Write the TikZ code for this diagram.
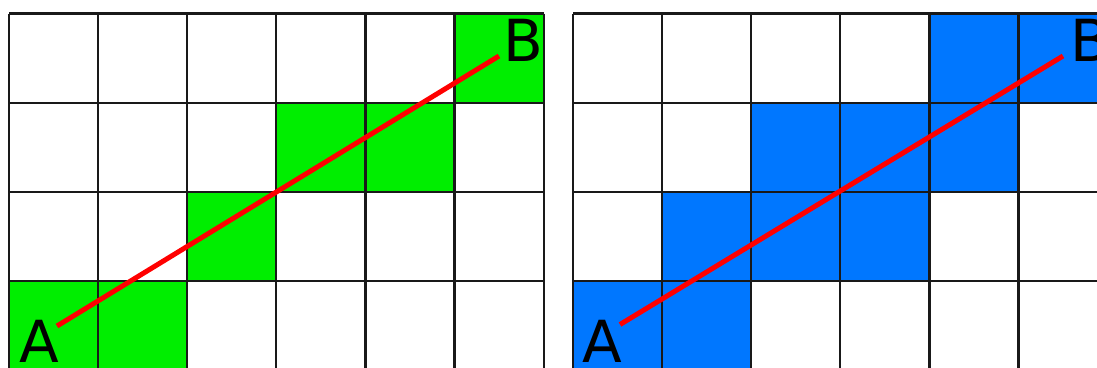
\documentclass[tikz,border=0pt]{standalone}
\usepackage{fontspec}
\setmainfont{DejaVu Sans}
\definecolor{cellgreen}{RGB}{0,238,0}
\definecolor{cellblue}{RGB}{0,119,255}
\begin{document}
\begin{tikzpicture}[x=1pt,y=-1pt,
  gridline/.style={draw=black!90,line width=2.2pt},
  ray/.style={draw=red,line width=5pt},
  lbl/.style={inner sep=0pt,anchor=base,font=\fontsize{58}{58}\selectfont}]
\useasboundingbox (0,0) rectangle (1097,367);
\clip (0,0) rectangle (1097,367);
\fill[white] (0,0) rectangle (1097,367);
\def\cs{89.1}
% left grid origin (9,13.5)
\foreach \c/\r in {5/0,3/1,4/1,2/2,0/3,1/3}
  \fill[cellgreen] ({9+\c*\cs},{13.5+\r*\cs}) rectangle ++(\cs,\cs);
\foreach \i in {0,...,6}
  \draw[gridline] ({9+\i*\cs},13.5) -- ({9+\i*\cs},{13.5+4*\cs});
\foreach \j in {0,...,4}
  \draw[gridline] (9,{13.5+\j*\cs}) -- ({9+6*\cs},{13.5+\j*\cs});
% right grid origin (573,13.5)
\foreach \c/\r in {4/0,5/0,2/1,3/1,4/1,1/2,2/2,3/2,0/3,1/3}
  \fill[cellblue] ({573+\c*\cs},{13.5+\r*\cs}) rectangle ++(\cs,\cs);
\foreach \i in {0,...,6}
  \draw[gridline] ({573+\i*\cs},13.5) -- ({573+\i*\cs},{13.5+4*\cs});
\foreach \j in {0,...,4}
  \draw[gridline] (573,{13.5+\j*\cs}) -- ({573+6*\cs},{13.5+\j*\cs});
% labels
\node[lbl] (A1) at (39,362) {A};
\node[lbl] (B1) at (523,61) {B};
\node[lbl] (A2) at (602,362) {A};
\node[lbl] (B2) at (1090,61) {B};
% ray ends
\coordinate (pA1) at (57,326);
\coordinate (pB1) at (499,56);
\coordinate (pA2) at (620,324.5);
\coordinate (pB2) at (1063,56);
\draw[ray] (pA1) -- (pB1);
\draw[ray] (pA2) -- (pB2);
\end{tikzpicture}
\end{document}
